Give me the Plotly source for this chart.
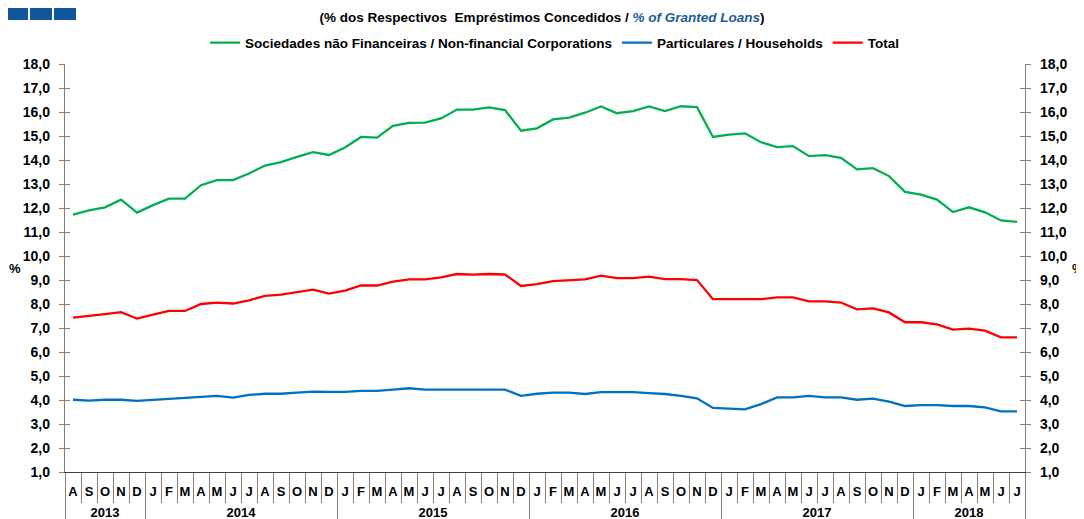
import plotly.graph_objects as go

# ---- data ----
years = ["2013"] * 5 + ["2014"] * 12 + ["2015"] * 12 + ["2016"] * 12 + ["2017"] * 12 + ["2018"] * 7
months = (["A", "S", "O", "N", "D"]
          + ["J", "F", "M", "A", "M", "J", "J", "A", "S", "O", "N", "D"] * 4
          + ["J", "F", "M", "A", "M", "J", "J"])

nfc = [11.72, 11.90, 12.03, 12.35, 11.81,
       12.12, 12.39, 12.39, 12.95, 13.16, 13.16, 13.44, 13.77, 13.91, 14.13, 14.33, 14.21,
       14.52, 14.96, 14.93, 15.42, 15.55, 15.56, 15.73, 16.10, 16.10, 16.19, 16.08, 15.22,
       15.32, 15.69, 15.77, 15.97, 16.23, 15.95, 16.04, 16.23, 16.04, 16.24, 16.20, 14.96,
       15.06, 15.11, 14.74, 14.54, 14.58, 14.16, 14.20, 14.09, 13.61, 13.66, 13.33, 12.67,
       12.56, 12.35, 11.83, 12.03, 11.82, 11.48, 11.42]

households = [4.01, 3.97, 4.01, 4.01, 3.96,
              4.00, 4.05, 4.06, 4.11, 4.17, 4.10, 4.21, 4.26, 4.26, 4.31, 4.35, 4.34,
              4.34, 4.38, 4.38, 4.43, 4.49, 4.43, 4.43, 4.43, 4.43, 4.43, 4.43, 4.17,
              4.26, 4.31, 4.31, 4.25, 4.33, 4.33, 4.33, 4.29, 4.25, 4.17, 4.07, 3.67,
              3.65, 3.61, 3.83, 4.11, 4.11, 4.17, 4.11, 4.11, 4.01, 4.06, 3.93, 3.75,
              3.79, 3.79, 3.75, 3.75, 3.69, 3.53, 3.53]

total = [7.43, 7.49, 7.58, 7.66, 7.39,
         7.56, 7.71, 7.71, 8.00, 8.06, 8.02, 8.15, 8.34, 8.39, 8.51, 8.60, 8.43,
         8.56, 8.77, 8.77, 8.93, 9.03, 9.03, 9.11, 9.25, 9.22, 9.25, 9.23, 8.75,
         8.83, 8.95, 8.99, 9.03, 9.18, 9.08, 9.08, 9.14, 9.04, 9.04, 9.00, 8.20,
         8.20, 8.20, 8.20, 8.28, 8.28, 8.11, 8.11, 8.06, 7.78, 7.82, 7.65, 7.24,
         7.24, 7.15, 6.93, 6.97, 6.89, 6.61, 6.61]

series_names = ["Sociedades não Financeiras / Non-financial Corporations",
                "Particulares / Households",
                "Total"]
series_colors = ["#00B050", "#0070C0", "#FF0000"]

# ---- derived positions from the category lists ----
n = len(months)
idx = list(range(n))
year_labels = []
year_first = []
for i, y in enumerate(years):
    if not year_labels or year_labels[-1] != y:
        year_labels.append(y)
        year_first.append(i)
year_last = year_first[1:] + [n]
year_centers = [(a + b - 1) / 2 for a, b in zip(year_first, year_last)]
year_bounds = [a - 0.5 for a in year_first] + [n - 0.5]
month_bounds = [i - 0.5 for i in range(n + 1)]

fig = go.Figure()
for name, vals, col in zip(series_names, [nfc, households, total], series_colors):
    fig.add_trace(go.Scatter(x=idx, y=vals, mode="lines", name="<b>" + name + "</b>",
                             line=dict(color=col, width=2.3),
                             customdata=[y + " " + m for y, m in zip(years, months)],
                             hovertemplate="%{customdata}: %{y:.2f}<extra>" + name + "</extra>"))
# invisible helper traces so the extra axes are drawn
for xa, ya in [("x2", "y2"), ("x", "y3"), ("x", "y4")]:
    fig.add_trace(go.Scatter(x=idx, y=total, xaxis=xa, yaxis=ya, mode="lines",
                             line=dict(color="rgba(0,0,0,0)"), showlegend=False,
                             hoverinfo="skip"))

FONT = "Liberation Sans, Arial, sans-serif"
AX = "#808080"
yax = dict(range=[1, 18], dtick=1, tick0=1, tickformat=".1f", showgrid=False,
           zeroline=False, showline=True, linecolor=AX, linewidth=1.3,
           ticks="outside", ticklen=5, tickcolor=AX, tickwidth=1.3,
           ticklabelstandoff=6, automargin=False,
           tickfont=dict(family=FONT, size=14, color="#000000", weight="bold"))
yin = dict(range=[1, 18], dtick=1, tick0=1, showgrid=False, zeroline=False,
           showline=False, ticks="inside", ticklen=5, tickcolor=AX, tickwidth=1.3,
           showticklabels=False, overlaying="y", automargin=False)

xrange = [-0.5, n - 0.5]

fig.update_layout(
    width=1084, height=519,
    margin=dict(l=57, r=67, t=56, b=55),
    paper_bgcolor="white", plot_bgcolor="white",
    separators=", ",
    font=dict(family=FONT, color="#000000"),
    title=dict(
        text="<b>(% dos Respectivos  Empréstimos Concedidos / "
             "<i><span style='color:#1F5A96'>% of Granted Loans</span></i>)</b>",
        x=0.5 - 8 / 1084, xanchor="center", y=1 - 9 / 519, yanchor="middle",
        font=dict(family=FONT, size=13.5, color="#000000")),
    legend=dict(orientation="h", x=0.51, xanchor="center", y=1.052, yanchor="middle",
                font=dict(family=FONT, size=13.5, color="#000000"),
                itemwidth=30, tracegroupgap=0, bgcolor="rgba(0,0,0,0)"),
    showlegend=True,
    xaxis=dict(range=xrange, showgrid=False, zeroline=False, automargin=False,
               showline=True, linecolor="#404040", linewidth=1.3,
               tickmode="array", tickvals=idx, ticktext=months, ticks="",
               ticklabelstandoff=7,
               tickfont=dict(family=FONT, size=13, color="#000000", weight="bold"),
               minor=dict(tickmode="array", tickvals=month_bounds, ticks="outside",
                          ticklen=30, tickcolor=AX, tickwidth=1, showgrid=False)),
    xaxis2=dict(range=xrange, overlaying="x", anchor="y", side="bottom",
                showgrid=False, zeroline=False, showline=False, automargin=False,
                tickmode="array", tickvals=year_centers, ticktext=year_labels, ticks="",
                ticklabelstandoff=31,
                tickfont=dict(family=FONT, size=13, color="#000000", weight="bold"),
                minor=dict(tickmode="array", tickvals=year_bounds, ticks="outside",
                           ticklen=60, tickcolor=AX, tickwidth=1, showgrid=False)),
    yaxis=yax,
    yaxis2=dict(yax, overlaying="y", side="right"),
    yaxis3=dict(yin, side="left"),
    yaxis4=dict(yin, side="right"),
)

fig.add_annotation(text="<b>%</b>", xref="paper", yref="paper", x=-0.052, y=0.5,
                   xanchor="center", yanchor="middle",
                   showarrow=False, font=dict(family=FONT, size=13))
fig.add_annotation(text="<b>%</b>", xref="paper", yref="paper", x=1.055, y=0.5,
                   xanchor="center", yanchor="middle",
                   showarrow=False, font=dict(family=FONT, size=13))

# decorative blue squares in the top-left corner
for x0 in [6, 30, 54]:
    fig.add_shape(type="rect", xref="paper", yref="paper",
                  x0=(x0 - 65) / 960, x1=(x0 + 22 - 65) / 960,
                  y0=(472 - 6) / 408, y1=(472 - 20) / 408,
                  fillcolor="#11559C", line=dict(width=0))

fig.write_html("out.html")
